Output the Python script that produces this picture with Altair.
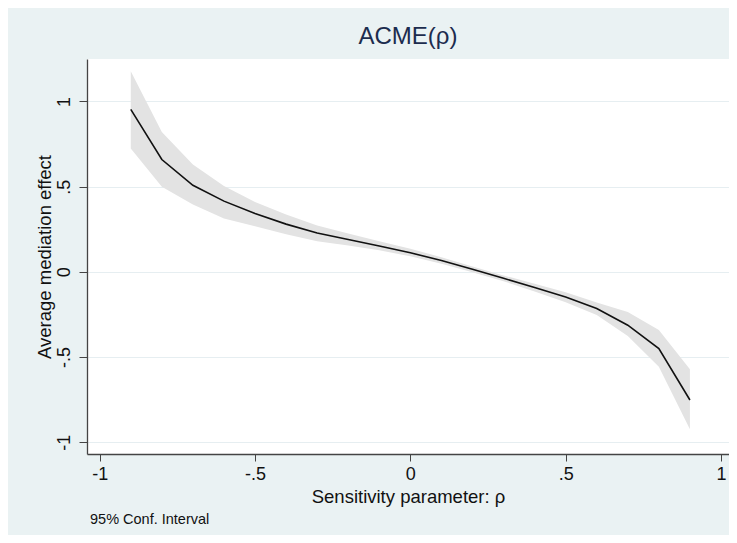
import altair as alt
import pandas as pd

# Sensitivity parameter values
rho = [-0.9, -0.8, -0.7, -0.6, -0.5, -0.4, -0.3, -0.2, -0.1, 0.0,
       0.1, 0.2, 0.3, 0.4, 0.5, 0.6, 0.7, 0.8, 0.9]
# Average causal mediation effect
acme = [0.953, 0.659, 0.508, 0.415, 0.342, 0.280, 0.228, 0.190, 0.152, 0.112,
        0.066, 0.015, -0.038, -0.092, -0.147, -0.215, -0.313, -0.450, -0.752]
# 95% confidence interval
ci_upper = [1.177, 0.821, 0.630, 0.503, 0.410, 0.336, 0.272, 0.225, 0.180, 0.135,
            0.086, 0.031, -0.021, -0.070, -0.120, -0.180, -0.235, -0.342, -0.572]
ci_lower = [0.724, 0.499, 0.395, 0.313, 0.268, 0.220, 0.180, 0.155, 0.126, 0.091,
            0.047, -0.002, -0.055, -0.115, -0.178, -0.254, -0.377, -0.557, -0.924]

x_ticks = [-1, -0.5, 0, 0.5, 1]
x_tick_labels = ["-1", "-.5", "0", ".5", "1"]
y_ticks = [-1, -0.5, 0, 0.5, 1]
y_tick_labels = ["-1", "-.5", "0", ".5", "1"]

title_text = "ACME(ρ)"
x_title = "Sensitivity parameter: ρ"
y_title = "Average mediation effect"
note_text = "95% Conf. Interval"

df = pd.DataFrame({"rho": rho, "acme": acme, "hi": ci_upper, "lo": ci_lower})


def label_expr(vals, labs):
    parts = [f"datum.value == {v} ? '{l}'" for v, l in zip(vals, labs)]
    return " : ".join(parts) + " : ''"


FONT = "Liberation Sans"

x_enc = alt.X(
    "rho:Q",
    scale=alt.Scale(domain=[-1.0409, 1.0258], nice=False, zero=False),
    axis=alt.Axis(
        values=x_ticks,
        labelExpr=label_expr(x_ticks, x_tick_labels),
        title=x_title,
        grid=False,
        tickSize=7,
        tickColor="#444444",
        domainColor="#444444",
        domainWidth=1.3,
        labelFontSize=18,
        labelPadding=4,
        labelColor="#111111",
        labelFont=FONT,
        titleFont=FONT,
        titleFontSize=18.5,
        titleFontWeight="normal",
        titleColor="#111111",
        titleBaseline="alphabetic",
        titleY=48,
        labelFlush=False,
    ),
)

y_axis = alt.Axis(
    values=y_ticks,
    labelExpr=label_expr(y_ticks, y_tick_labels),
    title=y_title,
    grid=True,
    gridColor="#E6EEF1",
    gridWidth=1.2,
    tickSize=8,
    tickColor="#444444",
    domainColor="#444444",
    domainWidth=1.3,
    labelAngle=270,
    labelFontSize=18,
    labelPadding=6,
    labelColor="#111111",
    labelFont=FONT,
    titleFont=FONT,
    titleFontSize=18.5,
    titleFontWeight="normal",
    titleColor="#111111",
    titleBaseline="alphabetic",
    titleX=-37,
    labelFlush=False,
)

y_scale = alt.Scale(domain=[-1.069, 1.249], nice=False, zero=False)

base = alt.Chart(df)

band = base.mark_area(color="#E3E3E3", opacity=1).encode(
    x=x_enc,
    y=alt.Y("hi:Q", scale=y_scale, axis=y_axis),
    y2="lo:Q",
)

line = base.mark_line(color="#111111", strokeWidth=1.6).encode(
    x="rho:Q",
    y=alt.Y("acme:Q", scale=y_scale),
)

note = alt.Chart(pd.DataFrame({"t": [note_text]})).mark_text(
    align="left", baseline="alphabetic", fontSize=14.5, font=FONT, color="#111111"
).encode(text="t:N", x=alt.value(3), y=alt.value(465))

chart = (
    alt.layer(band, line, note)
    .properties(
        width=642,
        height=395,
        title=alt.Title(
            title_text,
            fontSize=24,
            font=FONT,
            fontWeight="normal",
            color="#1c2c4e",
            anchor="middle",
            offset=10,
        ),
        autosize=alt.AutoSizeParams(type="none"),
        padding={"left": 79, "top": 51, "right": 0, "bottom": 81},
        background="#EAF2F3",
    )
    .configure_view(fill="white", strokeWidth=0)
)

chart.save("out.html", embed_options={"renderer": "svg", "actions": False})
